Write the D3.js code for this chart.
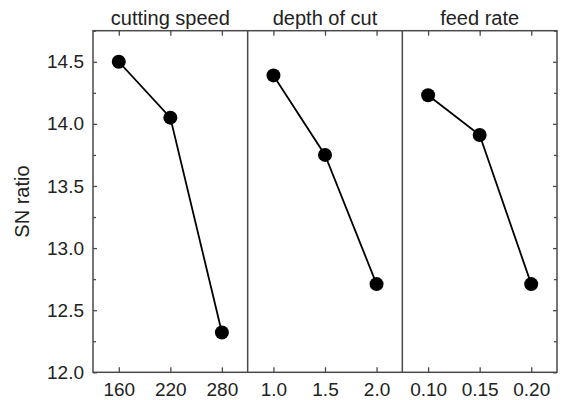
<!DOCTYPE html>
<html>
<head>
<meta charset="utf-8">
<script src="https://cdn.jsdelivr.net/npm/d3@7.9.0/dist/d3.min.js"></script>
<style>
  body { margin: 0; background: #fff; }
  text { font-family: Arial, "Liberation Sans", sans-serif; fill: #222; }
</style>
</head>
<body>
<svg width="565" height="400"></svg>
<script>
// factors and their levels
const panels = ["cutting speed", "depth of cut", "feed rate"];
const speedLevels = ["160", "220", "280"];
const depthLevels = ["1.0", "1.5", "2.0"];
const feedLevels = ["0.10", "0.15", "0.20"];

// SN ratio per level
const speedSN = [14.50, 14.05, 12.32];
const depthSN = [14.39, 13.75, 12.71];
const feedSN = [14.23, 13.91, 12.71];

const yMajor = [12.0, 12.5, 13.0, 13.5, 14.0, 14.5];
const yMinor = [12.25, 12.75, 13.25, 13.75, 14.25, 14.75];

const levels = [speedLevels, depthLevels, feedLevels];
const values = [speedSN, depthSN, feedSN];

const svg = d3.select("svg");
const plotLeft = 93, plotRight = 557, plotTop = 30.7, plotBottom = 372.3;
const frameColor = "#4a4a4a";

const x = d3.scaleBand().domain(panels).range([plotLeft, plotRight]);
const y = d3.scaleLinear().domain([12, 14.75]).range([plotBottom, plotTop]);

// y axis, left side (labels) and right side (ticks only)
const yAxisL = svg.append("g").attr("transform", `translate(${plotLeft},0)`);
yAxisL.call(d3.axisLeft(y).tickValues(yMajor).tickFormat(d3.format(".1f"))
  .tickSize(-4).tickPadding(9));
yAxisL.append("g").call(d3.axisLeft(y).tickValues(yMinor).tickFormat("").tickSize(-3));

const yAxisR = svg.append("g").attr("transform", `translate(${plotRight},0)`);
yAxisR.call(d3.axisRight(y).tickValues(yMajor).tickFormat("").tickSize(-4));
yAxisR.append("g").call(d3.axisRight(y).tickValues(yMinor).tickFormat("").tickSize(-3));

svg.selectAll(".domain").remove();
svg.selectAll(".tick line").attr("stroke", frameColor).attr("stroke-width", 1.3);
yAxisL.selectAll("text").style("font-size", "19px").attr("fill", "#222");

svg.append("text")
  .attr("transform", `translate(29,${(plotTop + plotBottom) / 2}) rotate(-90)`)
  .attr("text-anchor", "middle")
  .style("font-size", "20px")
  .text("SN ratio");

panels.forEach((name, i) => {
  const x0 = x(name);
  const xi = d3.scalePoint().domain(levels[i]).range([0, x.bandwidth()]).padding(0.5);
  const g = svg.append("g").attr("transform", `translate(${x0},0)`);

  const bx = g.append("g").attr("transform", `translate(0,${plotBottom})`)
    .call(d3.axisBottom(xi).tickSize(-5).tickPadding(10));
  const tx = g.append("g").attr("transform", `translate(0,${plotTop})`)
    .call(d3.axisTop(xi).tickSize(-5).tickFormat(""));
  [bx, tx].forEach(a => {
    a.select(".domain").remove();
    a.selectAll(".tick line").attr("stroke", frameColor).attr("stroke-width", 1.3);
  });
  bx.selectAll("text").style("font-size", "19px").attr("fill", "#222");

  g.append("text")
    .attr("x", x.bandwidth() / 2)
    .attr("y", 25)
    .attr("text-anchor", "middle")
    .style("font-size", "20px")
    .text(name);

  const pts = levels[i].map((l, j) => [xi(l), y(values[i][j])]);
  g.append("path")
    .attr("d", d3.line()(pts))
    .attr("fill", "none")
    .attr("stroke", "#000")
    .attr("stroke-width", 1.8);
  g.selectAll("circle").data(pts).join("circle")
    .attr("cx", d => d[0])
    .attr("cy", d => d[1])
    .attr("r", 7)
    .attr("fill", "#000");

  if (i > 0) {
    svg.append("line")
      .attr("x1", x0).attr("x2", x0)
      .attr("y1", plotTop).attr("y2", plotBottom)
      .attr("stroke", frameColor).attr("stroke-width", 1.5);
  }
});

svg.append("rect")
  .attr("x", plotLeft).attr("y", plotTop)
  .attr("width", plotRight - plotLeft).attr("height", plotBottom - plotTop)
  .attr("fill", "none")
  .attr("stroke", frameColor)
  .attr("stroke-width", 1.5);
</script>
</body>
</html>
